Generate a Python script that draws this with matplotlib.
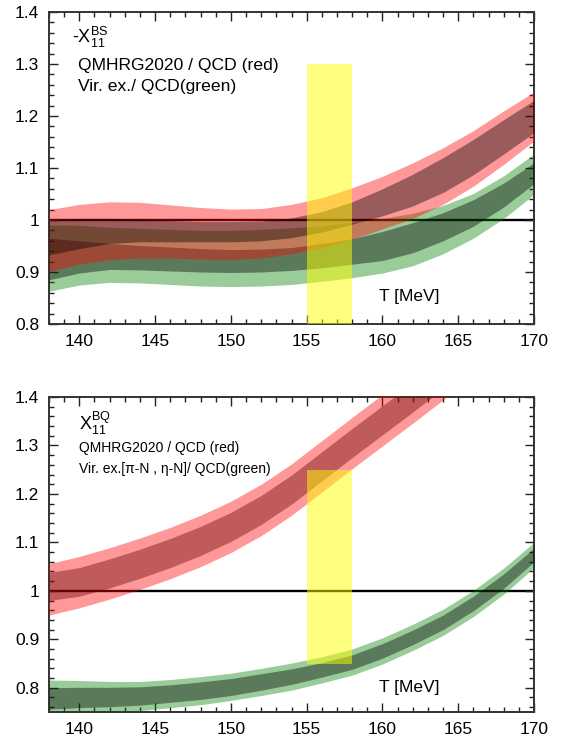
import matplotlib
matplotlib.use("Agg")
import matplotlib.pyplot as plt
from matplotlib.ticker import MultipleLocator, FuncFormatter

plt.rcParams['font.family'] = ['Liberation Sans', 'DejaVu Sans']
plt.rcParams['mathtext.default'] = 'regular'

# ---------------- data: top panel (-chi11^BS) ----------------
T_top = [138, 140, 142, 144, 146, 148, 150, 152, 154, 156, 158, 160, 162, 164, 166, 168, 170]
red_out_hi_top = [1.020, 1.030, 1.035, 1.034, 1.029, 1.024, 1.021, 1.022, 1.030, 1.043, 1.062, 1.084, 1.110, 1.139, 1.172, 1.210, 1.246]
red_out_lo_top = [0.901, 0.915, 0.924, 0.927, 0.927, 0.925, 0.924, 0.927, 0.935, 0.947, 0.963, 0.983, 1.003, 1.030, 1.065, 1.107, 1.152]
red_in_hi_top = [1.000, 1.003, 1.003, 1.001, 0.999, 0.997, 0.997, 0.998, 1.004, 1.016, 1.035, 1.060, 1.088, 1.120, 1.155, 1.193, 1.230]
red_in_lo_top = [0.933, 0.945, 0.955, 0.958, 0.958, 0.958, 0.958, 0.960, 0.966, 0.977, 0.992, 1.008, 1.027, 1.053, 1.087, 1.127, 1.168]
grn_out_hi_top = [0.990, 0.990, 0.986, 0.984, 0.982, 0.980, 0.980, 0.982, 0.985, 0.989, 0.995, 1.003, 1.013, 1.028, 1.051, 1.085, 1.127]
grn_out_lo_top = [0.863, 0.875, 0.880, 0.879, 0.876, 0.873, 0.872, 0.873, 0.876, 0.882, 0.889, 0.898, 0.912, 0.935, 0.965, 1.003, 1.049]
grn_in_hi_top = [0.965, 0.960, 0.955, 0.951, 0.948, 0.945, 0.943, 0.944, 0.947, 0.955, 0.964, 0.978, 0.995, 1.014, 1.039, 1.071, 1.110]
grn_in_lo_top = [0.885, 0.898, 0.905, 0.904, 0.902, 0.900, 0.899, 0.900, 0.903, 0.908, 0.915, 0.922, 0.937, 0.960, 0.988, 1.025, 1.070]

# ---------------- data: bottom panel (chi11^BQ) ----------------
T_red_bot = [138, 140, 142, 144, 146, 148, 150, 152, 154, 156, 158, 160, 162, 164, 166]
red_out_hi_bot = [1.056, 1.071, 1.089, 1.109, 1.131, 1.156, 1.185, 1.220, 1.262, 1.310, 1.358, 1.405, 1.452, 1.500, 1.550]
red_out_lo_bot = [0.950, 0.965, 0.983, 1.003, 1.025, 1.050, 1.079, 1.114, 1.156, 1.204, 1.252, 1.299, 1.346, 1.394, 1.444]
red_in_hi_bot = [1.038, 1.048, 1.066, 1.086, 1.108, 1.133, 1.162, 1.197, 1.239, 1.287, 1.335, 1.382, 1.429, 1.477, 1.527]
red_in_lo_bot = [0.980, 0.989, 1.006, 1.026, 1.048, 1.073, 1.102, 1.137, 1.179, 1.227, 1.275, 1.322, 1.369, 1.417, 1.467]

T_grn_bot = [138, 140, 142, 144, 146, 148, 150, 152, 154, 156, 158, 160, 162, 164, 166, 168, 170]
grn_out_hi_bot = [0.816, 0.815, 0.813, 0.813, 0.817, 0.823, 0.830, 0.840, 0.851, 0.864, 0.880, 0.903, 0.931, 0.962, 1.001, 1.047, 1.100]
grn_out_lo_bot = [0.740, 0.745, 0.749, 0.753, 0.759, 0.765, 0.774, 0.784, 0.795, 0.810, 0.826, 0.849, 0.877, 0.908, 0.947, 0.993, 1.048]
grn_in_hi_bot = [0.800, 0.801, 0.801, 0.802, 0.806, 0.812, 0.819, 0.829, 0.839, 0.852, 0.868, 0.891, 0.919, 0.950, 0.989, 1.035, 1.088]
grn_in_lo_bot = [0.756, 0.759, 0.761, 0.764, 0.770, 0.776, 0.784, 0.795, 0.807, 0.822, 0.838, 0.861, 0.889, 0.920, 0.959, 1.005, 1.060]

# yellow pseudo-critical band
band_T = [155, 158]
band_top_y = [0.80, 1.30]
band_bot_y = [0.85, 1.25]

x_range = [138, 170]
y_range_top = [0.80, 1.40]
y_range_bot = [0.75, 1.40]

label_top = r'-$X_{11}^{BS}$'
label_bot = r'$X_{11}^{BQ}$'
lines_top = ['QMHRG2020 / QCD (red)', 'Vir. ex./ QCD(green)']
lines_bot = ['QMHRG2020 / QCD (red)', 'Vir. ex.[\u03c0-N , \u03b7-N]/ QCD(green)']

RED = (1.0, 0.0, 0.0)
GRN = (0.0, 0.5, 0.0)

fig = plt.figure(figsize=(5.67, 7.43), dpi=100)
ax1 = fig.add_axes([49/567, 1-324/743, 485/567, 312/743])
ax2 = fig.add_axes([49/567, 1-712/743, 485/567, 315/743])


def style(ax, yr):
    ax.set_xlim(*x_range)
    ax.set_ylim(*yr)
    ax.xaxis.set_major_locator(MultipleLocator(5))
    ax.xaxis.set_minor_locator(MultipleLocator(1))
    ax.yaxis.set_major_locator(MultipleLocator(0.1))
    ax.yaxis.set_minor_locator(MultipleLocator(0.02))
    ax.yaxis.set_major_formatter(FuncFormatter(lambda v, p: ('%.1f' % v).rstrip('0').rstrip('.')))
    ax.tick_params(which='both', direction='in', top=True, right=True,
                   width=1.0, color='#222222', labelsize=12.5)
    ax.tick_params(which='major', length=6.5)
    ax.tick_params(which='minor', length=3.5)
    ax.tick_params(axis='x', pad=7)
    ax.tick_params(axis='y', pad=7)
    for s in ax.spines.values():
        s.set_linewidth(1.4)
        s.set_color('#333333')
    ax.axhline(1.0, color='black', lw=1.7, zorder=1)


style(ax1, y_range_top)
style(ax2, y_range_bot)

# top panel bands
ax1.fill_between(T_top, grn_out_lo_top, grn_out_hi_top, color=GRN, alpha=0.4, lw=0, zorder=2)
ax1.fill_between(T_top, grn_in_lo_top, grn_in_hi_top, color='black', alpha=0.4, lw=0, zorder=3)
ax1.fill_between(T_top, red_out_lo_top, red_out_hi_top, color=RED, alpha=0.4, lw=0, zorder=4)
ax1.fill_between(T_top, red_in_lo_top, red_in_hi_top, color='black', alpha=0.4, lw=0, zorder=5)
ax1.fill_between(band_T, [band_top_y[0]]*2, [band_top_y[1]]*2, color='yellow', alpha=0.5, lw=0, zorder=6)

# bottom panel bands
ax2.fill_between(T_grn_bot, grn_out_lo_bot, grn_out_hi_bot, color=GRN, alpha=0.4, lw=0, zorder=2)
ax2.fill_between(T_grn_bot, grn_in_lo_bot, grn_in_hi_bot, color='black', alpha=0.4, lw=0, zorder=3)
ax2.fill_between(T_red_bot, red_out_lo_bot, red_out_hi_bot, color=RED, alpha=0.4, lw=0, zorder=4)
ax2.fill_between(T_red_bot, red_in_lo_bot, red_in_hi_bot, color=(0.38, 0.0, 0.0), alpha=0.4, lw=0, zorder=5)
ax2.fill_between(band_T, [band_bot_y[0]]*2, [band_bot_y[1]]*2, color='yellow', alpha=0.5, lw=0, zorder=6)

# texts
ax1.text(139.5, 1.352, label_top, fontsize=13, ha='left', va='center', zorder=10)
ax1.text(139.9, 1.297, lines_top[0], fontsize=12.6, ha='left', va='center', zorder=10)
ax1.text(139.9, 1.256, lines_top[1], fontsize=12.6, ha='left', va='center', zorder=10)
ax1.text(161.8, 0.852, 'T [MeV]', fontsize=12.5, ha='center', va='center', zorder=10)

ax2.text(140.0, 1.345, label_bot, fontsize=13, ha='left', va='center', zorder=10)
ax2.text(140.0, 1.295, lines_bot[0], fontsize=10, ha='left', va='center', zorder=10)
ax2.text(140.0, 1.252, lines_bot[1], fontsize=10, ha='left', va='center', zorder=10)
ax2.text(161.8, 0.80, 'T [MeV]', fontsize=12.5, ha='center', va='center', zorder=10)

fig.savefig('out.png', dpi=100)
